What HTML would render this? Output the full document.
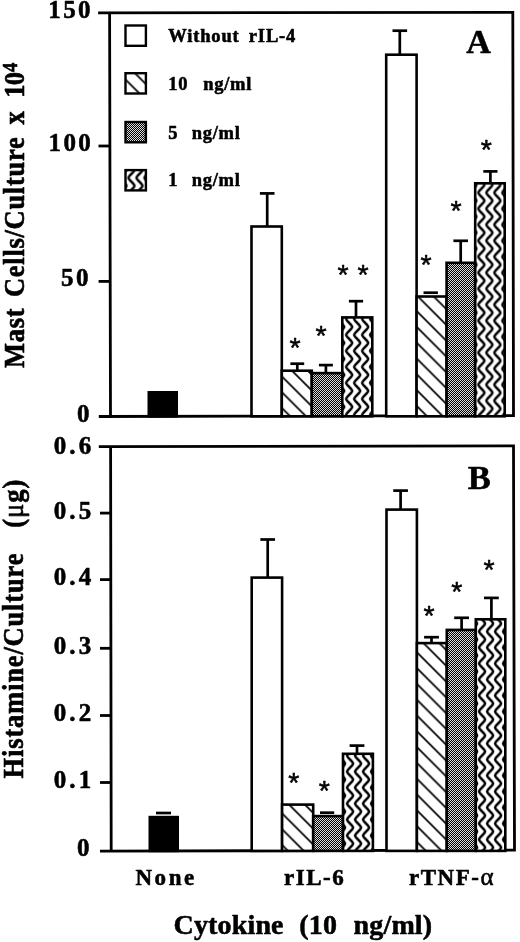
<!DOCTYPE html>
<html lang="en"><head><meta charset="utf-8"><title>Figure</title>
<style>
html,body{margin:0;padding:0;background:#fff;}
body{width:520px;height:942px;overflow:hidden;}
svg{display:block;}
text{font-family:"Liberation Serif","DejaVu Serif",serif;font-weight:bold;fill:#000;stroke:#000;stroke-width:0.55px;stroke-linejoin:round;}
.ast{font-family:"Liberation Sans","DejaVu Sans",sans-serif;font-weight:normal;stroke-width:0.5px;}
</style></head><body>
<svg width="520" height="942" viewBox="0 0 520 942">
<defs>
<pattern id="hatch" patternUnits="userSpaceOnUse" width="15.8" height="15.8">
<rect width="15.8" height="15.8" fill="#fff"/>
<path d="M-1,-1 L16.8,16.8 M-1,14.8 L1,16.8 M14.8,-1 L16.8,1" stroke="#000" stroke-width="1.7" fill="none"/>
</pattern>
<pattern id="hA1" href="#hatch" patternTransform="translate(0,94.5)"/>
<pattern id="hA2" href="#hatch" patternTransform="translate(0,-121.4)"/>
<pattern id="hB1" href="#hatch" patternTransform="translate(0,531.3)"/>
<pattern id="hB2" href="#hatch" patternTransform="translate(0,235.4)"/>
<pattern id="dots" patternUnits="userSpaceOnUse" width="2" height="2">
<rect width="2" height="2" fill="#000"/>
<rect x="0" y="0" width="1" height="1" fill="#dcdcdc"/>
<rect x="1" y="1" width="1" height="1" fill="#dcdcdc"/>
</pattern>
<pattern id="wavy" patternUnits="userSpaceOnUse" width="8" height="16">
<rect width="8" height="16" fill="#fff"/>
<path id="wv" d="M1.0,-16 C1.0,-13.6 7.0,-10.4 7.0,-8 C7.0,-5.6 1.0,-2.4 1.0,0 C1.0,2.4 7.0,5.6 7.0,8 C7.0,10.4 1.0,13.6 1.0,16 C1.0,18.4 7.0,21.6 7.0,24" stroke="#000" stroke-width="2.4" fill="none"/>
<use href="#wv" x="-8"/><use href="#wv" x="8"/>
</pattern>
<pattern id="wA1" href="#wavy" patternTransform="translate(1.2,-1.1)"/>
<pattern id="wA2" href="#wavy" patternTransform="translate(-2.6,0.7)"/>
<pattern id="wB1" href="#wavy" patternTransform="translate(2.1,3.6)"/>
<pattern id="wB2" href="#wavy" patternTransform="translate(-1.9,7.5)"/>
<pattern id="wL" href="#wavy" patternTransform="translate(-0.5,1.8)"/>
<pattern id="hL" href="#hatch" patternTransform="translate(0,-46)"/>
</defs>
<rect width="520" height="942" fill="#fff"/>

<path d="M109.60,12.90 L110.50,416.50 M512.80,12.40 L513.50,415.60 M98.10,12.90 L514.20,12.40 M98.80,416.50 L514.90,415.60" stroke="#000" stroke-width="2.8" fill="none"/>
<path d="M98.5,146.00 H109.90" stroke="#000" stroke-width="2.8" fill="none"/>
<path d="M98.6,281.40 H110.20" stroke="#000" stroke-width="2.8" fill="none"/>
<text x="93.00" y="18.00" font-size="25" letter-spacing="2.4" text-anchor="end">150</text>
<text x="93.20" y="151.10" font-size="25" letter-spacing="2.4" text-anchor="end">100</text>
<text x="90.80" y="285.70" font-size="25" letter-spacing="2.4" text-anchor="end">50</text>
<text x="92.00" y="422.20" font-size="25" letter-spacing="2.4" text-anchor="end">0</text>
<rect x="148.80" y="392.30" width="27.90" height="24.00" fill="#000" stroke="#000" stroke-width="2.6"/>
<rect x="251.50" y="226.50" width="30.30" height="189.80" fill="#fff" stroke="#000" stroke-width="2.6"/>
<rect x="281.80" y="370.70" width="30.00" height="45.60" fill="url(#hA1)" stroke="#000" stroke-width="2.6"/>
<rect x="311.80" y="373.10" width="30.50" height="43.20" fill="url(#dots)" stroke="#000" stroke-width="2.6"/>
<rect x="342.30" y="317.40" width="30.00" height="98.90" fill="url(#wA1)" stroke="#000" stroke-width="2.6"/>
<rect x="386.20" y="54.70" width="30.40" height="361.60" fill="#fff" stroke="#000" stroke-width="2.6"/>
<rect x="416.60" y="296.50" width="30.00" height="119.80" fill="url(#hA2)" stroke="#000" stroke-width="2.6"/>
<rect x="446.60" y="262.80" width="28.60" height="153.50" fill="url(#dots)" stroke="#000" stroke-width="2.6"/>
<rect x="475.20" y="183.30" width="29.50" height="233.00" fill="url(#wA2)" stroke="#000" stroke-width="2.6"/>
<path d="M259.90,193.40 H274.50" stroke="#000" stroke-width="2.7" fill="none"/>
<path d="M267.20,193.40 V226.20" stroke="#000" stroke-width="2.7" fill="none"/>
<path d="M290.40,363.70 H304.20" stroke="#000" stroke-width="2.7" fill="none"/>
<path d="M297.30,363.70 V370.40" stroke="#000" stroke-width="2.7" fill="none"/>
<path d="M318.90,365.10 H332.90" stroke="#000" stroke-width="2.7" fill="none"/>
<path d="M325.90,365.10 V372.80" stroke="#000" stroke-width="2.7" fill="none"/>
<path d="M348.90,301.20 H363.10" stroke="#000" stroke-width="2.7" fill="none"/>
<path d="M356.00,301.20 V317.10" stroke="#000" stroke-width="2.7" fill="none"/>
<path d="M392.50,30.70 H407.10" stroke="#000" stroke-width="2.7" fill="none"/>
<path d="M399.80,30.70 V54.40" stroke="#000" stroke-width="2.7" fill="none"/>
<path d="M423.50,292.70 H437.90" stroke="#000" stroke-width="2.7" fill="none"/>
<path d="M453.40,240.80 H468.00" stroke="#000" stroke-width="2.7" fill="none"/>
<path d="M460.70,240.80 V262.50" stroke="#000" stroke-width="2.7" fill="none"/>
<path d="M483.30,171.40 H497.50" stroke="#000" stroke-width="2.7" fill="none"/>
<path d="M490.40,171.40 V183.00" stroke="#000" stroke-width="2.7" fill="none"/>
<text class="ast" x="295.1" y="356.8" font-size="28.5" text-anchor="middle">*</text>
<text class="ast" x="321.1" y="344.8" font-size="28.5" text-anchor="middle">*</text>
<text class="ast" x="343.1" y="284.2" font-size="28.5" text-anchor="middle">*</text>
<text class="ast" x="363.1" y="284.2" font-size="28.5" text-anchor="middle">*</text>
<text class="ast" x="426.0" y="274.3" font-size="28.5" text-anchor="middle">*</text>
<text class="ast" x="456.0" y="219.6" font-size="28.5" text-anchor="middle">*</text>
<text class="ast" x="486.4" y="159.0" font-size="28.5" text-anchor="middle">*</text>
<rect x="125.5" y="25.5" width="20.4" height="20.3" fill="#fff" stroke="#000" stroke-width="2.4"/>
<rect x="125.5" y="73.2" width="20.4" height="20.3" fill="url(#hL)" stroke="#000" stroke-width="2.4"/>
<rect x="125.5" y="122.0" width="20.4" height="20.3" fill="url(#dots)" stroke="#000" stroke-width="2.4"/>
<rect x="125.5" y="170.1" width="20.4" height="20.3" fill="url(#wL)" stroke="#000" stroke-width="2.4"/>
<text y="41.60" font-size="18.5" letter-spacing="0.85"><tspan x="168.20">Without</tspan><tspan x="248.80">rIL-4</tspan></text>
<text y="89.80" font-size="18.5" letter-spacing="0.7"><tspan x="168.20">10</tspan><tspan x="203.30">ng/ml</tspan></text>
<text y="138.60" font-size="18.5" letter-spacing="0.7"><tspan x="168.20">5</tspan><tspan x="191.80">ng/ml</tspan></text>
<text y="186.40" font-size="18.5" letter-spacing="0.7"><tspan x="168.20">1</tspan><tspan x="191.80">ng/ml</tspan></text>
<text x="466.3" y="53.2" font-size="34">A</text>
<path d="M110.60,446.70 L111.20,851.10 M513.50,445.90 L514.50,850.20 M98.80,446.70 L514.90,445.90 M100.00,851.10 L515.90,850.20" stroke="#000" stroke-width="2.8" fill="none"/>
<path d="M100.0,513.10 H111.00" stroke="#000" stroke-width="2.8" fill="none"/>
<path d="M100.0,579.60 H111.00" stroke="#000" stroke-width="2.8" fill="none"/>
<path d="M100.0,648.30 H111.00" stroke="#000" stroke-width="2.8" fill="none"/>
<path d="M100.0,715.50 H111.00" stroke="#000" stroke-width="2.8" fill="none"/>
<path d="M100.0,782.50 H111.00" stroke="#000" stroke-width="2.8" fill="none"/>
<text x="94.50" y="453.50" font-size="25" letter-spacing="3.2" text-anchor="end">0.6</text>
<text x="94.50" y="518.70" font-size="25" letter-spacing="3.2" text-anchor="end">0.5</text>
<text x="94.50" y="585.40" font-size="25" letter-spacing="3.2" text-anchor="end">0.4</text>
<text x="94.50" y="653.50" font-size="25" letter-spacing="3.2" text-anchor="end">0.3</text>
<text x="94.50" y="721.40" font-size="25" letter-spacing="3.2" text-anchor="end">0.2</text>
<text x="94.50" y="787.60" font-size="25" letter-spacing="3.2" text-anchor="end">0.1</text>
<text x="92.00" y="855.80" font-size="25" letter-spacing="2.4" text-anchor="end">0</text>
<rect x="149.80" y="817.10" width="27.90" height="33.80" fill="#000" stroke="#000" stroke-width="2.6"/>
<rect x="251.70" y="577.60" width="30.40" height="273.30" fill="#fff" stroke="#000" stroke-width="2.6"/>
<rect x="282.10" y="804.60" width="31.10" height="46.30" fill="url(#hB1)" stroke="#000" stroke-width="2.6"/>
<rect x="313.20" y="816.10" width="29.80" height="34.80" fill="url(#dots)" stroke="#000" stroke-width="2.6"/>
<rect x="343.00" y="753.80" width="29.90" height="97.10" fill="url(#wB1)" stroke="#000" stroke-width="2.6"/>
<rect x="386.50" y="509.60" width="30.40" height="341.30" fill="#fff" stroke="#000" stroke-width="2.6"/>
<rect x="416.90" y="643.10" width="29.90" height="207.80" fill="url(#hB2)" stroke="#000" stroke-width="2.6"/>
<rect x="446.80" y="629.90" width="29.00" height="221.00" fill="url(#dots)" stroke="#000" stroke-width="2.6"/>
<rect x="475.80" y="619.30" width="29.50" height="231.60" fill="url(#wB2)" stroke="#000" stroke-width="2.6"/>
<path d="M156.00,813.00 H171.00" stroke="#000" stroke-width="2.7" fill="none"/>
<path d="M260.35,539.50 H275.05" stroke="#000" stroke-width="2.7" fill="none"/>
<path d="M267.70,539.50 V577.30" stroke="#000" stroke-width="2.7" fill="none"/>
<path d="M320.00,812.70 H334.20" stroke="#000" stroke-width="2.7" fill="none"/>
<path d="M349.60,745.60 H364.40" stroke="#000" stroke-width="2.7" fill="none"/>
<path d="M357.00,745.60 V753.50" stroke="#000" stroke-width="2.7" fill="none"/>
<path d="M393.25,490.60 H407.95" stroke="#000" stroke-width="2.7" fill="none"/>
<path d="M400.60,490.60 V509.30" stroke="#000" stroke-width="2.7" fill="none"/>
<path d="M424.10,637.20 H438.90" stroke="#000" stroke-width="2.7" fill="none"/>
<path d="M431.50,637.20 V642.80" stroke="#000" stroke-width="2.7" fill="none"/>
<path d="M454.20,617.80 H469.00" stroke="#000" stroke-width="2.7" fill="none"/>
<path d="M461.60,617.80 V629.60" stroke="#000" stroke-width="2.7" fill="none"/>
<path d="M484.00,597.90 H498.80" stroke="#000" stroke-width="2.7" fill="none"/>
<path d="M491.40,597.90 V619.00" stroke="#000" stroke-width="2.7" fill="none"/>
<text class="ast" x="293.9" y="792.4" font-size="28.5" text-anchor="middle">*</text>
<text class="ast" x="324.4" y="800.0" font-size="28.5" text-anchor="middle">*</text>
<text class="ast" x="429.1" y="625.3" font-size="28.5" text-anchor="middle">*</text>
<text class="ast" x="456.7" y="601.0" font-size="28.5" text-anchor="middle">*</text>
<text class="ast" x="489.1" y="578.7" font-size="28.5" text-anchor="middle">*</text>
<text x="467.7" y="489" font-size="34.5">B</text>
<text x="135.4" y="885.2" font-size="23" letter-spacing="2.6">None</text>
<text x="284" y="885.2" font-size="23" letter-spacing="1.5">rIL-6</text>
<text x="409" y="885.2" font-size="23" letter-spacing="1.5">rTNF-<tspan style="font-family:'Liberation Serif','DejaVu Serif',serif;font-weight:normal" font-size="25">α</tspan></text>
<text y="934.30" font-size="28" letter-spacing="0.15"><tspan x="173.60">Cytokine</tspan><tspan x="299.30">(10</tspan><tspan x="353.60">ng/ml)</tspan></text>
<text transform="translate(23.60,368.00) rotate(-90) scale(1,1.115)" font-size="26.5" letter-spacing="0.7">Mast</text>
<text transform="translate(23.60,297.00) rotate(-90) scale(1,1.115)" font-size="26.5" letter-spacing="0.72">Cells/Culture</text>
<text transform="translate(23.60,124.40) rotate(-90) scale(1,1.115)" font-size="26.5" letter-spacing="0.7">x</text>
<text transform="translate(23.60,97.80) rotate(-90) scale(1,1.115)" font-size="26.5" letter-spacing="-0.6">10</text>
<text transform="translate(16.80,72.00) rotate(-90) scale(1,1.115)" font-size="18.5" letter-spacing="0.7">4</text>
<text transform="translate(23.40,778.40) rotate(-90) scale(1,1.115)" font-size="26.5" letter-spacing="0.84">Histamine/Culture</text>
<text transform="translate(23.40,527.80) rotate(-90) scale(1,1.115)" font-size="26.5" letter-spacing="1.0">(<tspan style="font-weight:normal">μ</tspan>g)</text>
</svg></body></html>
